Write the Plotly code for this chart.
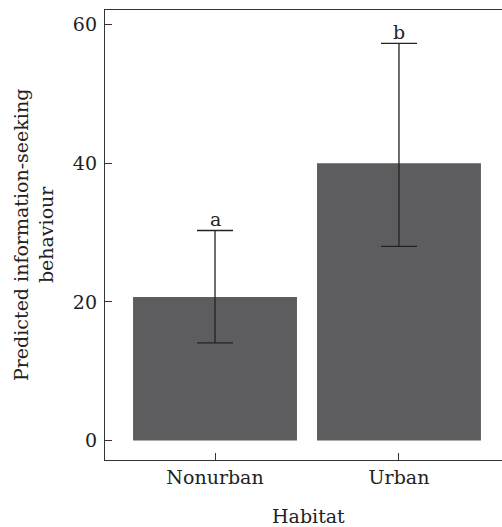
import plotly.graph_objects as go

categories = ["Nonurban", "Urban"]
values = [20.7, 40.0]
err_upper = [30.3, 57.3]
err_lower = [14.1, 28.0]
letters = ["a", "b"]
y_ticks = [0, 20, 40, 60]

FONT = "DejaVu Serif"
FS = 19
AXC = "#333333"

plus = [u - v for u, v in zip(err_upper, values)]
minus = [v - l for v, l in zip(values, err_lower)]

fig = go.Figure()
fig.add_trace(go.Bar(
    x=[0, 1], y=values, width=0.891,
    marker=dict(color="#5d5d5f", line=dict(width=0)),
    error_y=dict(type="data", symmetric=False, array=plus, arrayminus=minus,
                 color="#222222", thickness=1.3, width=18),
    showlegend=False,
))

for i, (lt, top) in enumerate(zip(letters, err_upper)):
    fig.add_annotation(x=i, y=top, text=lt, showarrow=False, xref="x", yref="y",
                       yanchor="bottom", yshift=-2,
                       font=dict(family=FONT, size=FS, color="#222222"))

PW = 397.0
PH = 450.0
fig.add_annotation(text="Predicted information-seeking<br>behaviour", textangle=-90,
                   xref="paper", yref="paper", x=(33 - 105) / PW, y=0.5,
                   xanchor="center", yanchor="middle", showarrow=False,
                   font=dict(family=FONT, size=FS, color="#222222"))
fig.add_annotation(text="Habitat", xref="paper", yref="paper",
                   x=(308 - 105) / PW, y=(460 - 516) / PH,
                   xanchor="center", yanchor="middle", showarrow=False,
                   font=dict(family=FONT, size=FS, color="#222222"))

fig.update_layout(
    width=502, height=527,
    margin=dict(l=105, r=0, t=10, b=67),
    paper_bgcolor="white", plot_bgcolor="white",
    font=dict(family=FONT, size=FS, color="#222222"),
    xaxis=dict(range=[-0.598, 1.56], tickvals=[0, 1], ticktext=categories,
               showline=True, linecolor=AXC, linewidth=1.3, mirror=True,
               ticks="inside", ticklen=7, tickcolor=AXC, tickwidth=1.2,
               showgrid=False, zeroline=False),
    yaxis=dict(range=[-2.8, 62.1], tickvals=y_ticks,
               showline=True, linecolor=AXC, linewidth=1.3,
               ticks="inside", ticklen=7, tickcolor=AXC, tickwidth=1.2,
               showgrid=False, zeroline=False, ticklabelstandoff=3),
)

fig.write_html("out.html", config={"displayModeBar": False},
               post_script="document.body.style.margin='0';document.body.style.overflow='hidden';")
